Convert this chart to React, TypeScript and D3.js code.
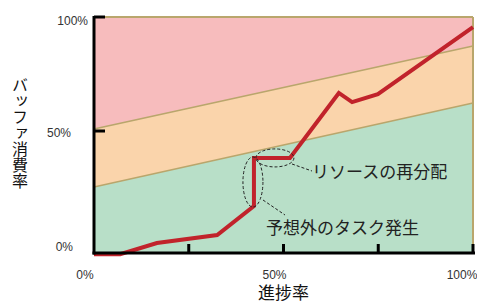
import * as d3 from "d3";

// progress (x, %) vs buffer consumption (y, %)
const progress = [0, 6.9, 16.6, 32.5, 42.2, 42.2, 51.7, 64.6, 68.1, 74.9, 100];
const consumption = [-4, -4, 0.9, 4.4, 17.1, 38.2, 38.2, 66.7, 62.7, 66.2, 95.6];

// zone boundaries at progress 0% and 100%
const bandX = [0, 100];
const lowerBand = [25.4, 62.3];
const upperBand = [50.9, 87.3];

const xTicks = [0, 25, 50, 75, 100];
const xTickLabels = [
  { v: 0, label: "0%" },
  { v: 50, label: "50%" },
  { v: 100, label: "100%" },
];
const yTicks = [50, 100];
const yTickLabels = [
  { v: 100, label: "100%" },
  { v: 50, label: "50%" },
  { v: 0, label: "0%" },
];

const W = 477;
const H = 303;
const left = 94;
const right = 473;
const top = 17;
const bottom = 253;

const jp = "'Noto Sans CJK JP', 'Noto Sans', sans-serif";
const latin = "'Liberation Sans', Arial, sans-serif";

export default function App() {
  const x = d3.scaleLinear().domain([0, 100]).range([left, right]);
  const y = d3.scaleLinear().domain([-3.5, 100]).range([bottom, top]);

  const areaOf = (vals: number[]) =>
    d3
      .area<number>()
      .x((d) => x(d))
      .y0(y(-3.5))
      .y1((_, i) => y(vals[i]))(bandX) as string;

  const lineOf = (vals: number[]) =>
    d3
      .line<number>()
      .x((d) => x(d))
      .y((_, i) => y(vals[i]))(bandX) as string;

  const path = d3
    .line<number>()
    .x((d) => x(d))
    .y((_, i) => y(consumption[i]))(progress) as string;

  // label nudges to mimic the original placement
  const yLabelX: Record<number, number> = { 100: 88, 50: 71, 0: 73 };
  const yLabelDy: Record<number, number> = { 100: 8, 50: 6, 0: 6 };

  return (
    <svg
      width={W}
      height={H}
      style={{ position: "absolute", left: 0, top: 0, background: "#fff" }}
    >
      {/* zones */}
      <rect x={left} y={top} width={right - left} height={bottom - top} fill="#f7bcbd" />
      <path d={areaOf(upperBand)} fill="#fad4ab" />
      <path d={areaOf(lowerBand)} fill="#b8dfc8" />
      <path d={lineOf(upperBand)} fill="none" stroke="#b9a66c" strokeWidth={1.5} />
      <path d={lineOf(lowerBand)} fill="none" stroke="#b9a66c" strokeWidth={1.5} />
      <line x1={left} x2={right} y1={top} y2={top} stroke="#b9a66c" strokeWidth={2} />
      <line x1={right} x2={right} y1={top} y2={bottom} stroke="#b9a66c" strokeWidth={2} />

      {/* consumption line */}
      <path
        d={path}
        fill="none"
        stroke="#c1232b"
        strokeWidth={4}
        strokeLinejoin="miter"
      />

      {/* axes */}
      <line x1={left} x2={left} y1={top - 1} y2={bottom + 1.5} stroke="#000" strokeWidth={3} />
      <line x1={left - 1.5} x2={right + 2} y1={bottom} y2={bottom} stroke="#000" strokeWidth={3} />
      {yTicks.map((t) => (
        <line key={t} x1={left} x2={left + 11} y1={y(t)} y2={y(t)} stroke="#000" strokeWidth={3} />
      ))}
      {xTicks.slice(1).map((t) => (
        <line key={t} x1={x(t)} x2={x(t)} y1={bottom} y2={bottom - 9} stroke="#000" strokeWidth={3} />
      ))}

      {/* tick labels */}
      {yTickLabels.map((d) => (
        <text
          key={d.v}
          x={yLabelX[d.v]}
          y={y(d.v) + yLabelDy[d.v]}
          textAnchor="end"
          fontFamily={latin}
          fontSize={12}
          fill="#333"
        >
          {d.label}
        </text>
      ))}
      {xTickLabels.map((d) => (
        <text
          key={d.v}
          x={x(d.v) - (d.v === 100 ? 11 : 9)}
          y={279}
          textAnchor="middle"
          fontFamily={latin}
          fontSize={12}
          fill="#333"
        >
          {d.label}
        </text>
      ))}

      {/* axis titles */}
      <text x={x(50)} y={299} textAnchor="middle" fontFamily={jp} fontSize={17} fill="#111">
        進捗率
      </text>
      <text
        x={20}
        y={77}
        fontFamily={jp}
        fontSize={16}
        fill="#111"
        style={{ writingMode: "vertical-rl" }}
      >
        バッファ消費率
      </text>

      {/* annotations */}
      <ellipse
        cx={x(42.2) - 1}
        cy={(y(17.1) + y(38.2)) / 2}
        rx={10}
        ry={25}
        fill="none"
        stroke="#222"
        strokeWidth={1}
        strokeDasharray="3,2"
      />
      <ellipse
        cx={(x(42.2) + x(51.7)) / 2 + 3}
        cy={y(38.2)}
        rx={19}
        ry={9}
        fill="none"
        stroke="#222"
        strokeWidth={1}
        strokeDasharray="3,2"
      />
      <line x1={292} y1={164} x2={312} y2={171} stroke="#222" strokeWidth={1} strokeDasharray="3,2" />
      <line x1={263} y1={200} x2={285} y2={215} stroke="#222" strokeWidth={1} strokeDasharray="3,2" />
      <text x={312} y={178} fontFamily={jp} fontSize={17} fill="#222">
        リソースの再分配
      </text>
      <text x={266} y={234} fontFamily={jp} fontSize={17} fill="#222">
        予想外のタスク発生
      </text>
    </svg>
  );
}
